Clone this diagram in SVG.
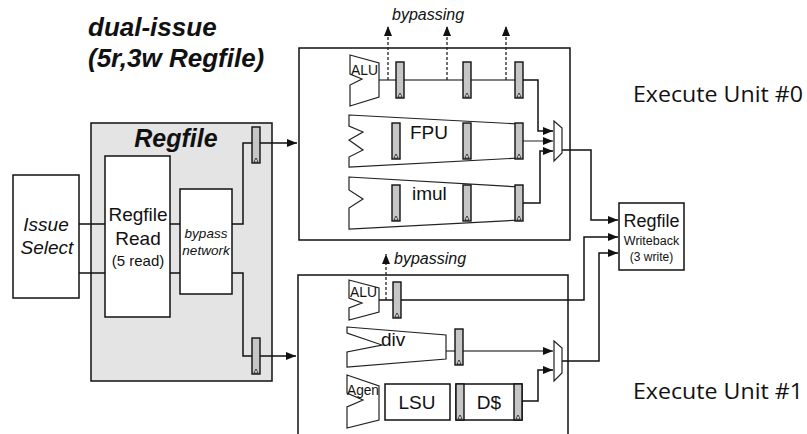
<svg xmlns="http://www.w3.org/2000/svg" xmlns:xlink="http://www.w3.org/1999/xlink" width="807" height="434" viewBox="0 0 807 434">
<style>
.box{fill:#fff;stroke:#111;stroke-width:1.5}
.fu{fill:#fff;stroke:#222;stroke-width:1.2}
.w{fill:none;stroke:#111;stroke-width:1.5}
.g{fill:none;stroke:#555;stroke-width:1.3}
.d{fill:none;stroke:#222;stroke-width:1.3;stroke-dasharray:3,2}
.t{font-family:"Liberation Sans",Arial,sans-serif;fill:#111}
.it{font-style:italic}
.b{font-weight:bold}
.ex{font-family:"Open Sans","Noto Sans",sans-serif;fill:#111;font-size:22px}
</style>
<defs>
<marker id="ah" markerUnits="userSpaceOnUse" markerWidth="11" markerHeight="9" refX="10" refY="4" orient="auto">
<path d="M0,0 L10,4 L0,8 z" fill="#111"/>
</marker>
<g id="reg">
<rect x="0" y="0" width="8" height="36" fill="#c6c6c6" stroke="#111" stroke-width="1.4"/>
<path d="M2,35 L4,31 L6,35 z" fill="#fff" stroke="#111" stroke-width="0.8"/>
</g>
</defs>
<rect width="807" height="434" fill="#fff"/>

<g id="title">
<text class="t it b" x="88" y="36" font-size="26">dual-issue</text>
<text class="t it b" x="88" y="67" font-size="26">(5r,3w Regfile)</text>
</g>

<g id="regfile-group">
<rect x="91" y="123" width="181" height="258" fill="#e4e4e4" stroke="#111" stroke-width="1.5"/>
<text class="t it b" x="176" y="147" font-size="25" text-anchor="middle">Regfile</text>
</g>

<g id="exec-unit-0-box">
<rect class="box" x="299" y="48" width="271" height="192"/>
</g>
<g id="exec-unit-1-box">
<rect class="box" x="298" y="275" width="270" height="170"/>
</g>

<g id="connectors">
<path class="w" d="M79,224 H180 M79,273 H180"/>
<path class="w" d="M232,224 H243 V143 H297" marker-end="url(#ah)"/>
<path class="w" d="M232,273 H243 V356 H296" marker-end="url(#ah)"/>
<path class="g" d="M379,80 H515"/>
<path class="d" d="M388,80 V26" marker-end="url(#ah)"/>
<path class="d" d="M447,80 V26" marker-end="url(#ah)"/>
<path class="d" d="M506,80 V26" marker-end="url(#ah)"/>
<path class="w" d="M523,80 H538 V131 H553" marker-end="url(#ah)"/>
<path class="g" d="M523,141 H553" marker-end="url(#ah)"/>
<path class="w" d="M523,203 H540 V151 H553" marker-end="url(#ah)"/>
<path class="w" d="M562,150 H591 V220 H618" marker-end="url(#ah)"/>
<path class="d" d="M386,300 V254" marker-end="url(#ah)"/>
<path class="w" d="M379,300 H584 V237 H618" marker-end="url(#ah)"/>
<path class="g" d="M446,351 H456 M463,351 H553" marker-end="url(#ah)"/>
<path class="w" d="M522,401 H538 V370 H553" marker-end="url(#ah)"/>
<path class="w" d="M562,361 H599 V253 H618" marker-end="url(#ah)"/>
</g>

<g id="issue-select">
<rect class="box" x="13" y="175" width="66" height="123"/>
<text class="t it" x="46" y="231" font-size="19" text-anchor="middle">Issue</text>
<text class="t it" x="47" y="254" font-size="19" text-anchor="middle">Select</text>
</g>

<g id="regfile-read">
<rect class="box" x="105" y="156" width="65" height="161"/>
<text class="t" x="138" y="221" font-size="19" text-anchor="middle">Regfile</text>
<text class="t" x="138" y="245" font-size="19" text-anchor="middle">Read</text>
<text class="t" x="138" y="266" font-size="15" text-anchor="middle">(5 read)</text>
</g>

<g id="bypass-network">
<rect class="box" x="180" y="189" width="52" height="105"/>
<text class="t it" x="206" y="238" font-size="13.5" text-anchor="middle">bypass</text>
<text class="t it" x="206" y="255" font-size="13.5" text-anchor="middle">network</text>
</g>

<g id="regfile-pipe-regs">
<use xlink:href="#reg" x="252" y="127"/>
<use xlink:href="#reg" x="252" y="338"/>
</g>

<g id="bypassing-0">
<text class="t it" x="392" y="20" font-size="16" fill="#333">bypassing</text>
</g>

<g id="alu-0">
<polygon class="fu" points="350,55 379,63 379,97 350,106 350,85 362,79 350,74"/>
<text class="t" x="351" y="75" font-size="14.5" textLength="27" lengthAdjust="spacingAndGlyphs">ALU</text>
<use xlink:href="#reg" x="396" y="62"/>
<use xlink:href="#reg" x="463" y="62"/>
<use xlink:href="#reg" x="515" y="62"/>
</g>

<g id="fpu">
<polygon class="fu" points="349,115 519,124 519,158 349,167 349,157 363,150 349,140 363,132 349,126"/>
<text class="t" x="410" y="139" font-size="19">FPU</text>
<use xlink:href="#reg" x="392" y="123"/>
<use xlink:href="#reg" x="463" y="123"/>
<use xlink:href="#reg" x="515" y="123"/>
</g>

<g id="imul">
<polygon class="fu" points="349,177 520,187 520,220 349,229 349,208 363,199 349,190"/>
<text class="t" x="412" y="200" font-size="19">imul</text>
<use xlink:href="#reg" x="392" y="185"/>
<use xlink:href="#reg" x="463" y="185"/>
<use xlink:href="#reg" x="515" y="185"/>
</g>

<g id="mux-0">
<polygon class="fu" points="554,121 562,128 562,153 554,161" stroke-width="1.4"/>
</g>

<g id="bypassing-1">
<text class="t it" x="394" y="264" font-size="16" fill="#333">bypassing</text>
</g>

<g id="alu-1">
<polygon class="fu" points="349,280 379,288 379,312 349,320 349,308 362,303 349,298"/>
<text class="t" x="350" y="297" font-size="14.5" textLength="27" lengthAdjust="spacingAndGlyphs">ALU</text>
<use xlink:href="#reg" x="393" y="282"/>
</g>

<g id="div">
<polygon class="fu" points="347,327 446,335 446,359 347,367 347,352 382,345 347,333"/>
<text class="t" x="381" y="346" font-size="19">div</text>
<use xlink:href="#reg" x="455" y="329"/>
</g>

<g id="agen">
<polygon class="fu" points="347,375 379,386 379,420 347,428 347,407 363,400 347,393"/>
<text class="t" x="347" y="395" font-size="14" textLength="32" lengthAdjust="spacingAndGlyphs">Agen</text>
</g>

<g id="lsu">
<rect class="box" x="385" y="384" width="65" height="36"/>
<text class="t" x="417" y="409" font-size="19" text-anchor="middle">LSU</text>
</g>

<g id="dcache">
<rect class="box" x="456" y="384" width="66" height="36"/>
<use xlink:href="#reg" x="456" y="384"/>
<use xlink:href="#reg" x="514" y="384"/>
<text class="t" x="489" y="409" font-size="19" text-anchor="middle">D$</text>
</g>

<g id="mux-1">
<polygon class="fu" points="554,341 562,348 562,373 554,381" stroke-width="1.4"/>
</g>

<g id="regfile-writeback">
<rect class="box" x="619" y="203" width="65" height="67"/>
<text class="t" x="651.5" y="227" font-size="18" text-anchor="middle">Regfile</text>
<text class="t" x="651.5" y="245" font-size="12.5" text-anchor="middle">Writeback</text>
<text class="t" x="651.5" y="261" font-size="12" text-anchor="middle">(3 write)</text>
</g>

<g id="labels">
<text class="ex" x="633" y="102" textLength="170" lengthAdjust="spacingAndGlyphs">Execute Unit #0</text>
<text class="ex" x="633" y="399" textLength="170" lengthAdjust="spacingAndGlyphs">Execute Unit #1</text>
</g>
</svg>
